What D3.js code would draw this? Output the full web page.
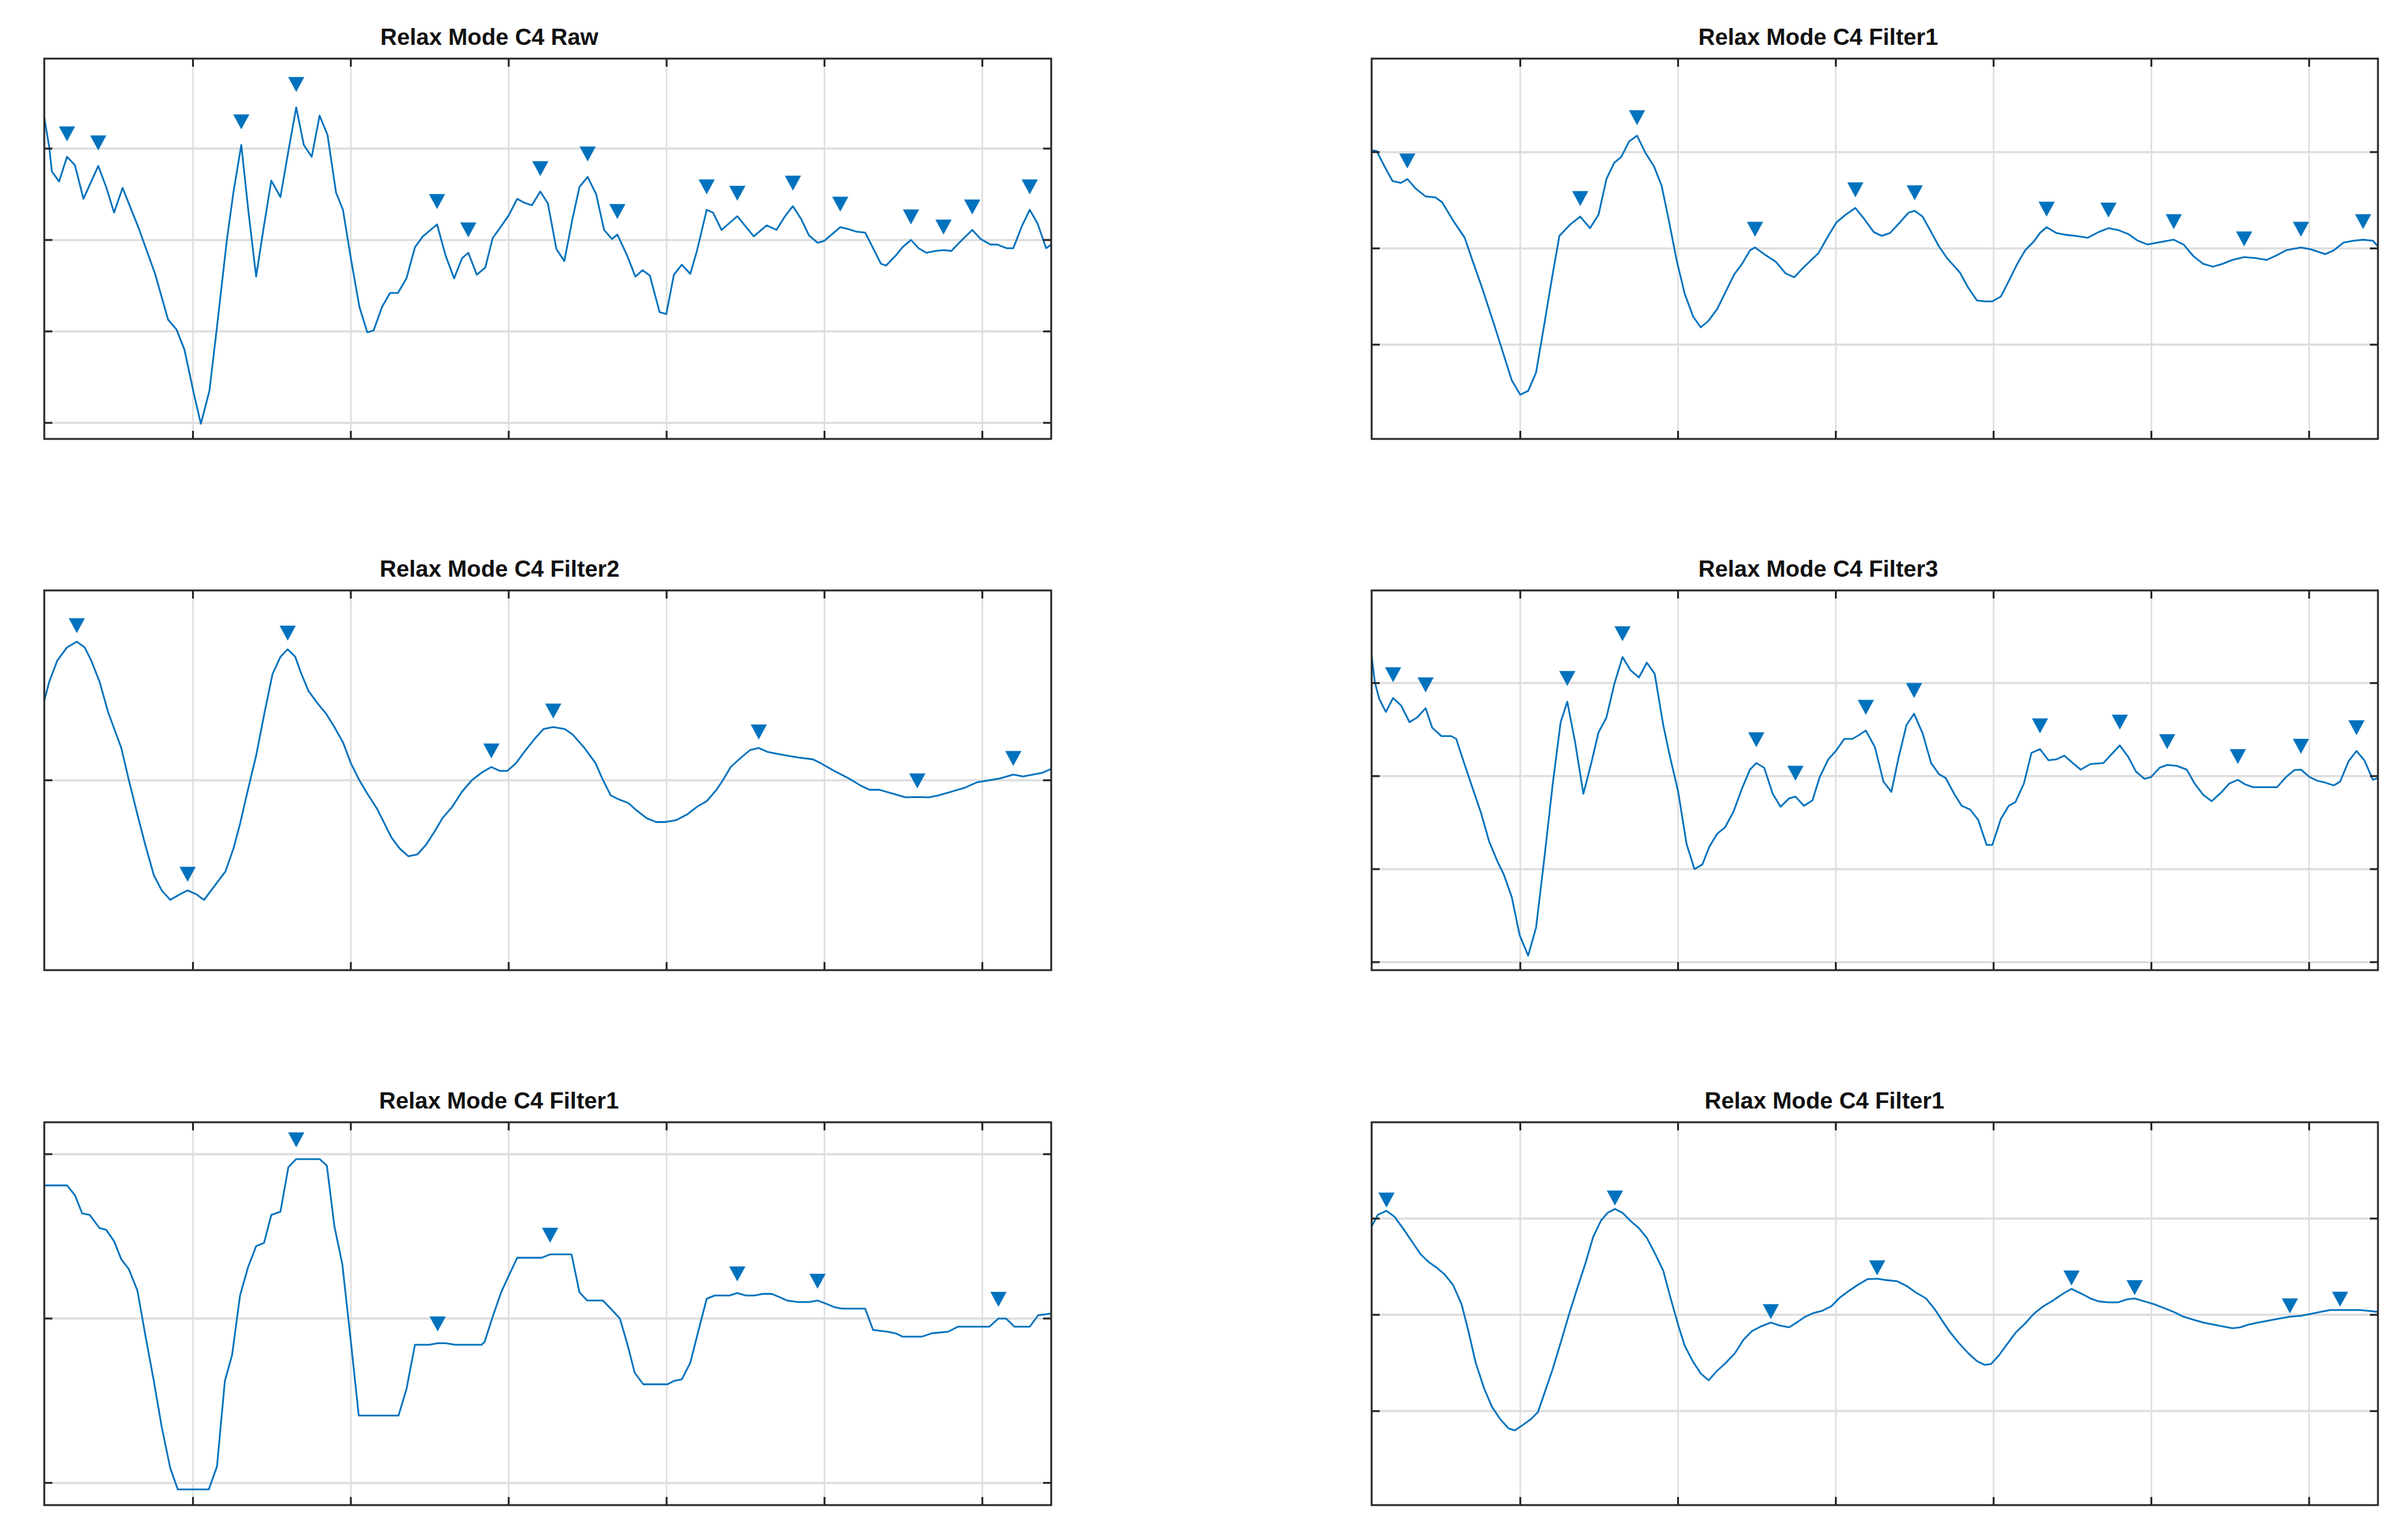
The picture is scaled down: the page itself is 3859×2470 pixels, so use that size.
<!DOCTYPE html>
<html><head><meta charset="utf-8">
<script src="https://cdn.jsdelivr.net/npm/d3@7"></script>
<style>html,body{margin:0;padding:0;background:#fff;} svg{display:block;}</style>
</head><body>
<svg id="chart" width="3859" height="2470"></svg>
<script>
// ---------------- DATA ----------------
const titles = ["Relax Mode C4 Raw", "Relax Mode C4 Filter1", "Relax Mode C4 Filter2",
                "Relax Mode C4 Filter3", "Relax Mode C4 Filter1", "Relax Mode C4 Filter1"];
const xTicks = [50, 100, 150, 200, 250, 300];
const xExtent = [2.9, 321.8];

const yTicksRaw = [-2, -1, 0, 1],     yExtentRaw = [-2.176, 1.984];
const yTicksF1a = [-1, 0, 1],         yExtentF1a = [-1.979, 1.971];
const yTicksF2  = [0],                yExtentF2  = [-1, 1];
const yTicksF3  = [-2, -1, 0, 1],     yExtentF3  = [-2.086, 1.996];
const yTicksF1b = [-1, 0, 1],         yExtentF1b = [-1.135, 1.194];
const yTicksF1c = [-1, 0, 1],         yExtentF1c = [-1.976, 2.0];

const rawSignal = [[2.9,1.34],[4.5,1.01],[5.3,0.75],[7.6,0.64],[10.1,0.91],[12.6,0.82],[15.3,0.45],[20.0,0.81],[22.5,0.58],[25.0,0.30],[27.7,0.57],[32.8,0.13],[38.0,-0.37],[42.1,-0.87],[44.8,-0.98],[47.3,-1.20],[50.4,-1.70],[52.5,-2.01],[55.2,-1.65],[57.6,-0.95],[60.7,-0.01],[62.8,0.52],[65.3,1.04],[67.6,0.30],[70.0,-0.40],[72.5,0.16],[74.8,0.65],[77.7,0.47],[80.0,0.93],[82.7,1.45],[85.1,1.04],[87.6,0.91],[90.1,1.36],[92.6,1.15],[95.3,0.52],[97.5,0.33],[100.0,-0.20],[102.7,-0.73],[105.2,-1.01],[107.2,-0.99],[109.9,-0.73],[112.4,-0.58],[114.9,-0.58],[117.6,-0.42],[120.3,-0.08],[122.8,0.04],[127.3,0.17],[130.0,-0.17],[132.7,-0.42],[135.2,-0.20],[137.2,-0.14],[139.9,-0.38],[142.6,-0.30],[144.9,0.02],[147.6,0.15],[150.0,0.27],[152.7,0.45],[154.8,0.41],[157.3,0.38],[160.0,0.53],[162.4,0.40],[165.1,-0.10],[167.6,-0.23],[170.3,0.25],[172.4,0.58],[175.0,0.69],[177.7,0.50],[180.2,0.11],[182.7,0.01],[184.4,0.06],[187.5,-0.17],[190.1,-0.40],[192.4,-0.33],[194.7,-0.39],[197.8,-0.79],[199.9,-0.81],[202.3,-0.38],[204.8,-0.27],[207.5,-0.37],[209.6,-0.12],[212.7,0.33],[214.7,0.30],[217.4,0.11],[222.4,0.26],[227.6,0.04],[231.7,0.16],[234.8,0.11],[237.5,0.26],[240.0,0.37],[242.6,0.23],[245.1,0.05],[247.8,-0.03],[249.9,-0.01],[255.0,0.14],[257.5,0.12],[260.2,0.09],[262.9,0.08],[265.4,-0.09],[267.9,-0.26],[269.5,-0.28],[272.6,-0.17],[274.7,-0.08],[277.4,0.00],[279.8,-0.09],[282.3,-0.14],[285.0,-0.12],[287.7,-0.11],[290.2,-0.12],[292.7,-0.03],[296.8,0.11],[299.5,0.01],[302.6,-0.05],[304.7,-0.05],[307.7,-0.09],[309.8,-0.09],[312.5,0.15],[315.0,0.33],[317.5,0.18],[320.2,-0.09],[321.8,-0.05]];
const rawPeaks = [10.1, 20.0, 65.3, 82.7, 127.3, 137.2, 160.0, 175.0, 184.4, 212.7, 222.4, 240.0, 255.0, 277.4, 287.7, 296.8, 315.0];

const filter1aSignal = [[2.9,1.02],[4.5,1.01],[7.0,0.85],[9.5,0.70],[12.2,0.68],[14.2,0.72],[16.9,0.62],[20.0,0.54],[23.1,0.53],[25.2,0.48],[28.7,0.29],[32.4,0.11],[34.9,-0.13],[38.0,-0.42],[41.7,-0.79],[44.8,-1.11],[47.3,-1.37],[50.0,-1.52],[52.5,-1.48],[55.0,-1.29],[57.6,-0.79],[60.3,-0.26],[62.4,0.13],[65.9,0.25],[69.0,0.33],[72.1,0.21],[74.8,0.35],[77.3,0.72],[79.8,0.89],[82.0,0.95],[84.5,1.11],[87.0,1.17],[89.7,0.99],[92.4,0.85],[94.8,0.65],[96.9,0.32],[99.6,-0.13],[102.1,-0.47],[104.8,-0.71],[107.2,-0.82],[109.7,-0.75],[112.4,-0.63],[115.1,-0.45],[117.8,-0.27],[120.3,-0.16],[122.8,-0.02],[124.4,0.01],[127.3,-0.06],[131.0,-0.14],[134.1,-0.26],[136.8,-0.30],[139.7,-0.20],[144.5,-0.05],[147.6,0.13],[150.2,0.27],[153.1,0.35],[156.2,0.42],[158.9,0.31],[162.0,0.17],[164.5,0.13],[167.2,0.16],[170.3,0.27],[173.0,0.37],[175.0,0.39],[177.5,0.33],[180.2,0.17],[182.7,0.02],[185.2,-0.10],[189.3,-0.25],[192.0,-0.41],[194.7,-0.54],[197.2,-0.55],[199.6,-0.55],[202.3,-0.50],[204.8,-0.34],[207.5,-0.16],[210.0,-0.02],[212.7,0.07],[214.7,0.16],[216.8,0.22],[219.9,0.16],[223.0,0.14],[226.1,0.13],[229.8,0.11],[233.3,0.17],[236.4,0.21],[239.5,0.19],[242.6,0.15],[245.7,0.08],[248.8,0.04],[251.9,0.06],[257.1,0.09],[260.2,0.04],[263.3,-0.08],[266.4,-0.16],[269.5,-0.19],[272.6,-0.16],[275.7,-0.12],[279.4,-0.09],[283.0,-0.10],[286.5,-0.12],[289.2,-0.08],[292.7,-0.02],[297.4,0.01],[300.5,-0.01],[305.1,-0.06],[307.8,-0.02],[310.9,0.06],[314.0,0.08],[317.1,0.09],[320.2,0.08],[321.8,0.02]];
const filter1aPeaks = [14.2, 69.0, 87.0, 124.4, 156.2, 175.0, 216.8, 236.4, 257.1, 279.4, 297.4, 317.1];

const filter2Signal = [[2.9,0.42],[4.5,0.52],[7.0,0.63],[10.1,0.70],[13.2,0.73],[15.7,0.70],[17.8,0.63],[20.4,0.52],[23.1,0.36],[27.3,0.17],[29.7,0.00],[32.4,-0.18],[34.9,-0.34],[37.6,-0.50],[40.1,-0.58],[42.8,-0.63],[45.9,-0.60],[48.3,-0.58],[51.0,-0.60],[53.5,-0.63],[56.2,-0.57],[60.3,-0.48],[62.8,-0.36],[64.9,-0.23],[67.4,-0.05],[70.0,0.13],[72.7,0.36],[75.2,0.56],[77.7,0.65],[80.0,0.69],[82.4,0.65],[84.1,0.57],[86.6,0.47],[89.7,0.40],[92.2,0.35],[94.8,0.28],[97.5,0.20],[100.0,0.09],[102.7,0.00],[105.2,-0.07],[108.3,-0.15],[110.4,-0.22],[112.8,-0.30],[115.5,-0.36],[118.2,-0.40],[121.1,-0.39],[123.8,-0.34],[126.5,-0.27],[129.0,-0.20],[132.1,-0.14],[135.2,-0.06],[138.3,0.00],[141.4,0.04],[144.5,0.07],[147.1,0.05],[149.6,0.05],[152.3,0.09],[155.4,0.16],[158.3,0.22],[161.0,0.27],[164.1,0.28],[167.8,0.27],[170.3,0.24],[174.0,0.17],[177.5,0.09],[179.6,0.01],[182.3,-0.08],[184.8,-0.10],[187.9,-0.12],[190.6,-0.16],[193.7,-0.20],[196.7,-0.22],[199.6,-0.22],[203.0,-0.21],[206.5,-0.18],[209.6,-0.14],[212.7,-0.11],[215.8,-0.05],[217.8,0.00],[220.3,0.07],[223.6,0.12],[226.5,0.16],[229.2,0.17],[231.9,0.15],[234.8,0.14],[238.1,0.13],[241.6,0.12],[246.4,0.11],[248.8,0.09],[253.0,0.05],[257.7,0.01],[261.7,-0.03],[264.3,-0.05],[267.4,-0.05],[271.6,-0.07],[275.7,-0.09],[279.4,-0.088],[283.0,-0.09],[286.0,-0.08],[290.2,-0.06],[294.3,-0.04],[298.4,-0.01],[302.2,0.00],[305.7,0.01],[309.8,0.03],[312.9,0.02],[316.0,0.03],[319.1,0.04],[321.8,0.06]];
const filter2Peaks = [13.2, 48.3, 80.0, 144.5, 164.1, 229.2, 279.4, 309.8];

const filter3Signal = [[2.9,1.29],[3.9,1.01],[5.3,0.83],[7.4,0.69],[9.7,0.84],[12.2,0.76],[14.9,0.58],[17.3,0.63],[20.0,0.73],[22.1,0.52],[25.0,0.43],[28.1,0.43],[29.7,0.40],[32.2,0.14],[34.9,-0.13],[37.6,-0.40],[40.1,-0.70],[42.8,-0.92],[44.8,-1.06],[47.3,-1.30],[49.8,-1.71],[52.5,-1.93],[55.0,-1.63],[57.6,-0.89],[60.3,-0.08],[62.8,0.58],[64.9,0.80],[67.4,0.36],[70.0,-0.19],[72.5,0.14],[74.8,0.47],[77.3,0.63],[79.8,0.99],[82.4,1.28],[84.9,1.14],[87.6,1.06],[90.1,1.22],[92.6,1.10],[95.3,0.55],[97.5,0.20],[100.0,-0.16],[102.7,-0.73],[105.2,-1.00],[107.7,-0.95],[109.9,-0.76],[112.4,-0.62],[114.9,-0.55],[117.6,-0.38],[120.3,-0.13],[122.8,0.07],[124.8,0.14],[127.3,0.09],[130.0,-0.19],[132.5,-0.33],[135.2,-0.24],[137.2,-0.22],[139.9,-0.32],[142.6,-0.26],[144.9,-0.01],[147.6,0.18],[150.0,0.27],[152.7,0.40],[155.2,0.40],[157.3,0.44],[159.5,0.49],[162.4,0.31],[165.1,-0.06],[167.6,-0.17],[169.9,0.20],[172.4,0.55],[174.8,0.67],[177.5,0.46],[180.2,0.14],[182.7,0.02],[184.8,-0.02],[187.5,-0.19],[189.9,-0.32],[192.6,-0.36],[195.1,-0.47],[197.8,-0.74],[199.6,-0.74],[202.3,-0.46],[204.8,-0.32],[206.9,-0.28],[209.6,-0.08],[212.0,0.25],[214.7,0.29],[217.4,0.17],[219.9,0.18],[222.4,0.22],[225.1,0.14],[227.6,0.07],[230.7,0.13],[234.8,0.14],[237.5,0.24],[240.0,0.33],[242.6,0.21],[245.1,0.05],[247.8,-0.03],[249.9,-0.01],[252.6,0.09],[255.0,0.12],[258.1,0.11],[261.2,0.07],[263.7,-0.08],[266.4,-0.20],[269.1,-0.27],[272.0,-0.18],[274.7,-0.08],[277.4,-0.04],[279.8,-0.09],[282.3,-0.12],[285.0,-0.12],[289.8,-0.12],[292.7,-0.01],[295.3,0.065],[297.4,0.07],[300.1,-0.01],[302.6,-0.05],[305.1,-0.07],[307.8,-0.10],[309.8,-0.06],[312.5,0.16],[315.0,0.27],[317.5,0.17],[320.2,-0.04],[321.8,-0.02]];
const filter3Peaks = [9.7, 20.0, 64.9, 82.4, 124.8, 137.2, 159.5, 174.8, 214.7, 240.0, 255.0, 277.4, 297.4, 315.0];

const filter1bSignal = [[2.9,0.81],[10.1,0.81],[12.6,0.75],[14.9,0.64],[17.3,0.63],[20.4,0.55],[22.5,0.54],[25.0,0.47],[27.3,0.36],[29.7,0.30],[32.4,0.17],[34.9,-0.10],[37.6,-0.38],[40.1,-0.66],[42.8,-0.91],[45.2,-1.04],[55.0,-1.04],[57.6,-0.90],[60.1,-0.38],[62.4,-0.22],[64.9,0.14],[67.4,0.31],[70.0,0.44],[72.5,0.46],[74.8,0.63],[77.7,0.65],[80.2,0.92],[82.7,0.97],[90.1,0.97],[92.4,0.93],[94.8,0.56],[97.3,0.33],[100.0,-0.14],[102.5,-0.59],[115.1,-0.59],[117.6,-0.43],[120.3,-0.16],[124.8,-0.16],[127.5,-0.15],[130.0,-0.15],[133.1,-0.16],[141.4,-0.16],[142.4,-0.14],[144.9,0.01],[147.6,0.16],[150.0,0.26],[152.7,0.37],[160.4,0.37],[163.1,0.39],[169.9,0.39],[172.4,0.16],[174.8,0.11],[179.8,0.11],[182.3,0.06],[185.2,0.00],[187.5,-0.15],[189.9,-0.33],[192.6,-0.40],[200.3,-0.40],[202.3,-0.38],[204.8,-0.37],[207.5,-0.27],[210.0,-0.08],[212.7,0.12],[215.2,0.14],[219.9,0.14],[222.4,0.155],[225.1,0.14],[227.8,0.14],[230.7,0.15],[233.3,0.15],[235.8,0.13],[238.1,0.11],[241.6,0.10],[245.1,0.10],[247.8,0.11],[250.5,0.09],[253.0,0.07],[255.5,0.06],[262.9,0.06],[265.4,-0.07],[269.9,-0.08],[272.6,-0.09],[274.7,-0.11],[280.9,-0.11],[284.0,-0.09],[289.2,-0.08],[292.2,-0.05],[302.2,-0.05],[305.1,0.00],[307.5,0.00],[310.2,-0.05],[315.0,-0.05],[317.7,0.02],[321.8,0.03]];
const filter1bPeaks = [82.7, 127.5, 163.1, 222.4, 247.8, 305.1];

const filter1cSignal = [[2.9,0.92],[4.9,1.04],[7.6,1.08],[10.1,1.02],[12.8,0.90],[15.7,0.76],[18.4,0.63],[20.9,0.55],[23.5,0.49],[26.0,0.42],[28.7,0.31],[31.4,0.11],[33.5,-0.16],[35.9,-0.50],[38.6,-0.77],[41.1,-0.96],[43.8,-1.09],[46.3,-1.18],[48.3,-1.20],[51.0,-1.14],[53.5,-1.08],[55.6,-1.01],[57.6,-0.82],[60.3,-0.56],[62.8,-0.29],[65.5,0.01],[68.0,0.27],[70.7,0.54],[73.1,0.81],[75.6,0.98],[77.7,1.06],[80.0,1.10],[82.4,1.06],[85.1,0.97],[87.6,0.90],[90.1,0.80],[92.8,0.63],[95.3,0.46],[97.5,0.19],[100.0,-0.10],[102.1,-0.32],[104.8,-0.49],[107.2,-0.61],[109.7,-0.68],[112.4,-0.58],[115.1,-0.50],[118.0,-0.40],[120.7,-0.26],[123.4,-0.17],[126.3,-0.12],[129.4,-0.08],[132.1,-0.11],[135.2,-0.13],[137.6,-0.08],[140.3,-0.02],[143.0,0.02],[145.5,0.04],[148.6,0.09],[151.3,0.18],[154.2,0.25],[156.9,0.31],[160.0,0.37],[163.1,0.375],[166.2,0.36],[169.3,0.35],[172.4,0.30],[175.5,0.23],[178.6,0.17],[181.3,0.06],[183.7,-0.06],[186.2,-0.18],[188.9,-0.29],[192.0,-0.40],[194.7,-0.48],[197.2,-0.52],[199.2,-0.51],[201.7,-0.42],[204.4,-0.30],[207.1,-0.18],[210.0,-0.09],[212.7,0.01],[215.8,0.09],[218.9,0.15],[222.0,0.22],[224.7,0.27],[227.8,0.22],[230.7,0.17],[233.3,0.14],[236.4,0.13],[239.5,0.13],[242.2,0.16],[244.7,0.17],[247.8,0.14],[250.9,0.11],[254.0,0.07],[257.1,0.03],[260.2,-0.02],[263.3,-0.05],[266.4,-0.08],[269.5,-0.10],[272.6,-0.12],[275.7,-0.14],[278.2,-0.13],[280.9,-0.10],[284.0,-0.08],[287.1,-0.06],[290.2,-0.04],[293.9,-0.02],[297.4,-0.01],[300.5,0.01],[303.6,0.03],[306.7,0.05],[309.8,0.05],[312.9,0.05],[316.0,0.05],[319.1,0.04],[321.8,0.03]];
const filter1cPeaks = [7.6, 80.0, 129.4, 163.1, 224.7, 244.7, 293.9, 309.8];

// ---------------- LAYOUT ----------------
const colX = [[71, 1686], [2200, 3814]];
const rowY = [[94, 704], [947, 1556], [1800, 2414]];
const titleStart = [610, 2724, 609, 2724, 608, 2734];
const markerLift = [36.8, 29, 25.8, 37.3, 30.7, 17.4];

const panels = [
  {signal: rawSignal,      peaks: rawPeaks,      yTicks: yTicksRaw, yExtent: yExtentRaw},
  {signal: filter1aSignal, peaks: filter1aPeaks, yTicks: yTicksF1a, yExtent: yExtentF1a},
  {signal: filter2Signal,  peaks: filter2Peaks,  yTicks: yTicksF2,  yExtent: yExtentF2},
  {signal: filter3Signal,  peaks: filter3Peaks,  yTicks: yTicksF3,  yExtent: yExtentF3},
  {signal: filter1bSignal, peaks: filter1bPeaks, yTicks: yTicksF1b, yExtent: yExtentF1b},
  {signal: filter1cSignal, peaks: filter1cPeaks, yTicks: yTicksF1c, yExtent: yExtentF1c}
];

const BLUE = "#0072BD", AXIS = "#262626", GRID = "#dedede";
const svg = d3.select("#chart");
svg.append("rect").attr("width", 3859).attr("height", 2470).attr("fill", "#fff");
const defs = svg.append("defs");
const tri = "M-13,-12L13,-12L0,12Z";
const TICK = 13;

panels.forEach((p, i) => {
  const r = Math.floor(i / 2), c = i % 2;
  const [x0, x1] = colX[c], [y0, y1] = rowY[r];
  const x = d3.scaleLinear().domain(xExtent).range([x0, x1]);
  const y = d3.scaleLinear().domain(p.yExtent).range([y1, y0]);
  const g = svg.append("g");

  g.append("text").attr("x", titleStart[i]).attr("y", y0 - 22)
    .attr("font-family", "'Liberation Sans', Arial, Helvetica, sans-serif")
    .attr("font-weight", "bold").attr("font-size", 37).attr("fill", "#111")
    .text(titles[i]);

  g.append("g").selectAll("line").data(xTicks).join("line")
    .attr("x1", d => x(d)).attr("x2", d => x(d)).attr("y1", y0).attr("y2", y1)
    .attr("stroke", GRID).attr("stroke-width", 2.5);
  g.append("g").selectAll("line").data(p.yTicks).join("line")
    .attr("y1", d => y(d)).attr("y2", d => y(d)).attr("x1", x0).attr("x2", x1)
    .attr("stroke", GRID).attr("stroke-width", 3.5);

  const cid = "clip" + i;
  defs.append("clipPath").attr("id", cid).append("rect")
    .attr("x", x0).attr("y", y0).attr("width", x1 - x0).attr("height", y1 - y0);

  const line = d3.line().x(d => x(d[0])).y(d => y(d[1]));
  g.append("path").datum(p.signal).attr("d", line).attr("clip-path", `url(#${cid})`)
    .attr("fill", "none").attr("stroke", BLUE).attr("stroke-width", 2.8)
    .attr("stroke-linejoin", "round");

  const peakPts = p.peaks.map(px =>
    p.signal.reduce((a, b) => Math.abs(b[0] - px) < Math.abs(a[0] - px) ? b : a));
  g.append("g").selectAll("path").data(peakPts).join("path")
    .attr("d", tri)
    .attr("transform", d => `translate(${x(d[0])},${y(d[1]) - markerLift[i]})`)
    .attr("fill", BLUE);

  g.append("rect").attr("x", x0).attr("y", y0).attr("width", x1 - x0).attr("height", y1 - y0)
    .attr("fill", "none").attr("stroke", AXIS).attr("stroke-width", 3);

  const tk = g.append("g").attr("stroke", AXIS).attr("stroke-width", 3);
  xTicks.forEach(t => {
    tk.append("line").attr("x1", x(t)).attr("x2", x(t)).attr("y1", y1).attr("y2", y1 - TICK);
    tk.append("line").attr("x1", x(t)).attr("x2", x(t)).attr("y1", y0).attr("y2", y0 + TICK);
  });
  p.yTicks.forEach(t => {
    tk.append("line").attr("y1", y(t)).attr("y2", y(t)).attr("x1", x0).attr("x2", x0 + TICK);
    tk.append("line").attr("y1", y(t)).attr("y2", y(t)).attr("x1", x1).attr("x2", x1 - TICK);
  });
});
</script>
</body></html>
